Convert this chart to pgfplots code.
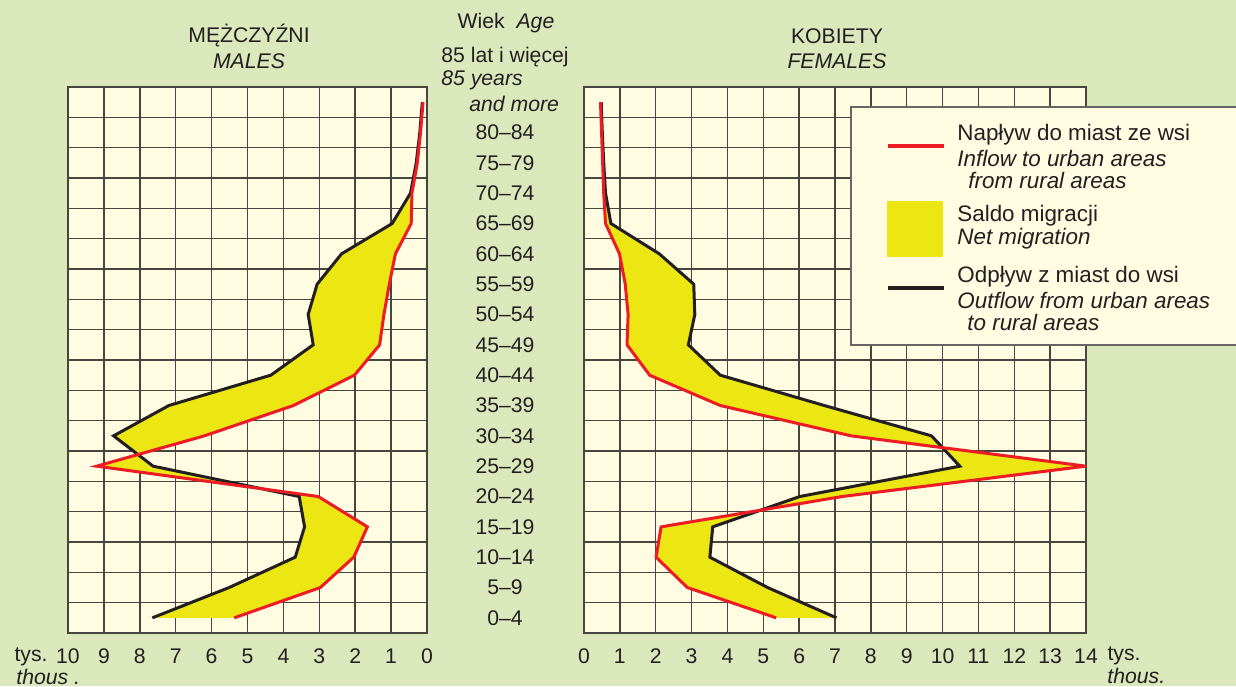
\documentclass[border=0pt]{standalone}
\usepackage{pgfplots}
\pgfplotsset{compat=1.18}
\usepackage{pgfplotstable}
\usepgfplotslibrary{fillbetween}
\usepackage{fontspec}
\setmainfont{Liberation Sans}
\definecolor{bgc}{HTML}{DAE8BC}
\definecolor{cream}{HTML}{FFFCE2}
\definecolor{fillc}{HTML}{ECE612}
\definecolor{redc}{HTML}{ED1C24}
\definecolor{blk}{HTML}{231F20}
\definecolor{gridc}{HTML}{46463E}
\definecolor{txt}{HTML}{231F20}

% age index (0 = 0-4 ... 17 = 85+), inflow to urban (red), outflow from urban (black), thousands
\pgfplotstableread{
age in out
0 5.37 7.65
1 2.97 5.51
2 2.04 3.67
3 1.66 3.41
4 3.03 3.56
5 9.20 7.63
6 6.20 8.73
7 3.72 7.19
8 2.02 4.35
9 1.32 3.17
10 1.20 3.31
11 1.05 3.06
12 0.88 2.38
13 0.44 0.97
14 0.42 0.46
15 0.27 0.30
16 0.18 0.20
17 0.11 0.13
}\males

\pgfplotstableread{
age in out
0 5.36 7.04
1 2.88 5.12
2 2.01 3.51
3 2.15 3.59
4 7.20 6.02
5 14.00 10.48
6 7.45 9.69
7 3.80 6.70
8 1.83 3.80
9 1.20 2.91
10 1.23 3.09
11 1.15 3.06
12 0.99 2.10
13 0.60 0.75
14 0.55 0.60
15 0.52 0.55
16 0.49 0.51
17 0.46 0.48
}\females

\pgfplotsset{
  panel/.style={
    scale only axis, height=273pt, anchor=south west,
    ymin=-0.5, ymax=17.5,
    xmajorgrids, yminorgrids, ymajorgrids=false,
    minor ytick={-0.5,0.5,...,17.5},
    major grid style={gridc, line width=0.75pt},
    minor grid style={gridc, line width=0.75pt},
    axis line style={gridc, line width=0.9pt},
    axis background/.style={fill=cream},
    major tick length=0pt, minor tick length=0pt,
    tick style={draw=none},
    /pgf/number format/assume math mode=true,
    xticklabel style={font=\fontsize{10.6}{12}\selectfont, text=txt, yshift=-4.5pt},
  },
}

\begin{document}
\pagecolor{bgc}%
\begin{tikzpicture}[font=\fontsize{10.6}{12.5}\selectfont, text=txt]%
\path (0pt,0pt) rectangle (618pt,-343pt);

% ---------------- males ----------------
\begin{axis}[panel, width=179.5pt, at={(34pt,-316.5pt)},
  xmin=0, xmax=10, x dir=reverse, xtick={0,...,10},
  ytick={0,...,17}, yticklabels={}]
\addplot[draw=none, name path=Lin, forget plot] table[x=in,y=age]{\males};
\addplot[draw=none, name path=Lout, forget plot] table[x=out,y=age]{\males};
\addplot[fillc, draw=none] fill between[of=Lin and Lout];
\addplot[blk, line width=1.5pt, line join=miter] table[x=out,y=age]{\males};
\addplot[redc, line width=1.5pt, line join=miter] table[x=in,y=age]{\males};
\end{axis}

% ---------------- females ----------------
\begin{axis}[panel, width=251pt, at={(292pt,-316.5pt)},
  xmin=0, xmax=14, xtick={0,...,14},
  ytick={0,...,16},
  yticklabels={0–4,5–9,10–14,15–19,20–24,25–29,30–34,35–39,40–44,45–49,50–54,55–59,60–64,65–69,70–74,75–79,80–84},
  yticklabel style={anchor=center, xshift=-39.5pt, font=\fontsize{10.6}{12}\selectfont, text=txt}]
\addplot[draw=none, name path=Fin, forget plot] table[x=in,y=age]{\females};
\addplot[draw=none, name path=Fout, forget plot] table[x=out,y=age]{\females};
\addplot[fillc, draw=none] fill between[of=Fin and Fout];
\addplot[blk, line width=1.5pt, line join=miter] table[x=out,y=age]{\females};
\addplot[redc, line width=1.5pt, line join=miter] table[x=in,y=age]{\females};
\end{axis}

\begin{scope}[x=0.5pt,y=-0.5pt]
% titles
\node at (249,36) {MĘŻCZYŹNI};
\node at (249,61) {\itshape MALES};
\node at (837,36) {KOBIETY};
\node at (837,61) {\itshape FEMALES};
\node at (506,23) {Wiek\ \ \textit{Age}};
\node[anchor=west, inner sep=0pt] at (441,57) {85 lat i więcej};
\node[anchor=west, inner sep=0pt] at (441,80) {\itshape 85 years};
\node[anchor=west, inner sep=0pt] at (469,104) {\itshape and more};

% units
\node at (31,657) {tys.};
\node[anchor=west, inner sep=0pt] at (16,677) {\itshape thous .};
\node at (1124,656) {tys.};
\node[anchor=west, inner sep=0pt] at (1107,676) {\itshape thous.};

% legend
\begin{scope}[font=\fontsize{11.2}{13}\selectfont]
\draw[fill=cream, draw=gray!80!black, line width=0.7pt] (851,107) rectangle (1250,345);
\draw[redc, line width=1.6pt] (888,146) -- (944,146);
\node[anchor=west, inner sep=0pt] at (957,135) {Napływ do miast ze wsi};
\node[anchor=west, inner sep=0pt] at (957,158) {\itshape Inflow to urban areas};
\node[anchor=west, inner sep=0pt] at (968,180) {\itshape from rural areas};
\fill[fillc] (887,201) rectangle (943,257);
\node[anchor=west, inner sep=0pt] at (957,216) {Saldo migracji};
\node[anchor=west, inner sep=0pt] at (957,239) {\itshape Net migration};
\draw[blk, line width=1.6pt] (888,288) -- (944,288);
\node[anchor=west, inner sep=0pt] at (957,277) {Odpływ z miast do wsi};
\node[anchor=west, inner sep=0pt] at (957,300) {\itshape Outflow from urban areas};
\node[anchor=west, inner sep=0pt] at (967,322) {\itshape to rural areas};
\end{scope}
\end{scope}
\pgfresetboundingbox
\path[use as bounding box] (0pt,0pt) rectangle (618pt,-343pt);
\end{tikzpicture}%
\end{document}
